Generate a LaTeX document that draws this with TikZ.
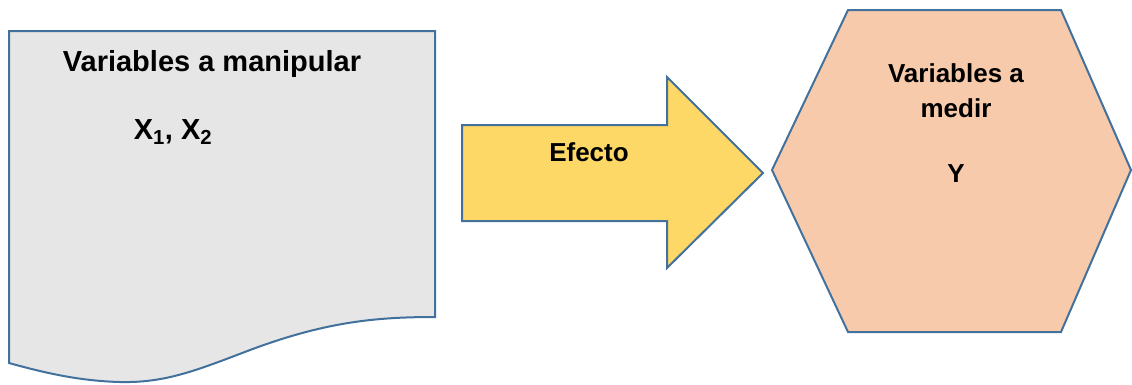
\documentclass[tikz,border=0pt]{standalone}
\usepackage{fontspec}
\setmainfont{Liberation Sans}
\definecolor{edge}{HTML}{41719C}
\definecolor{docfill}{HTML}{E7E6E6}
\definecolor{arrowfill}{HTML}{FDD866}
\definecolor{hexfill}{HTML}{F7CAAC}
\tikzset{
  shapeline/.style={draw=edge, line width=2pt, line join=miter},
  lbl/.style={font=\fontsize{26}{30}\selectfont\bfseries, anchor=base, inner sep=0pt, align=center},
  biglbl/.style={lbl, font=\fontsize{29}{33}\selectfont\bfseries}
}
\begin{document}
\begin{tikzpicture}[x=1pt,y=-1pt]
\useasboundingbox (0,0) rectangle (1132,384);
% document shape
\draw[shapeline, fill=docfill] (9,31) -- (435,31) -- (435,317)
  .. controls (375,317) and (325,322) .. (250,350)
  .. controls (195,371) and (165,383) .. (120,382)
  .. controls (80,381) and (45,373) .. (9,363) -- cycle;
% arrow
\draw[shapeline, fill=arrowfill] (462,125) -- (667,125) -- (667,77) -- (763,173)
  -- (667,268) -- (667,221) -- (462,221) -- cycle;
% hexagon
\draw[shapeline, fill=hexfill] (848,10) -- (1061,10) -- (1131,170) -- (1061,332)
  -- (848,332) -- (772,170) -- cycle;
% texts
\node[biglbl] (t1) at (212,71) {Variables a manipular};
\node[biglbl] (t2) at (173,139) {X\textsubscript{1}, X\textsubscript{2}};
\node[lbl] (t3) at (589,161) {Efecto};
\node[lbl] (t4) at (956,82) {Variables a};
\node[lbl] (t5) at (956,117) {medir};
\node[lbl] (t6) at (956,182) {Y};
\end{tikzpicture}
\end{document}
